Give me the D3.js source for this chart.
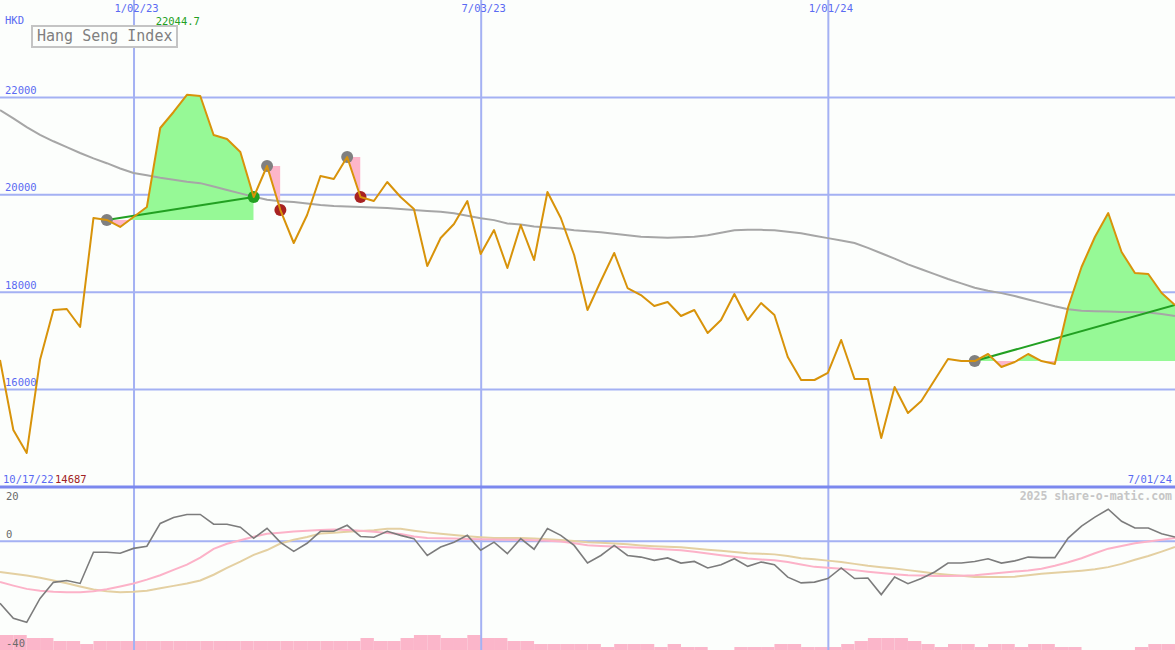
<!DOCTYPE html>
<html>
<head>
<meta charset="utf-8">
<script src="https://cdn.jsdelivr.net/npm/d3@7"></script>
<style>
body { margin: 0; background: #fff; }
svg { display: block; }
text { font-family: "DejaVu Sans Mono", monospace; }
</style>
</head>
<body>
<svg width="1175" height="650"></svg>
<script>
// weekly closes, Hang Seng Index
var closes = [16596,15158,14687,16600,17623,17644,17274,19514,19473,19329,
  19534,19740,21363,21692,22044.7,22020,21219,21137,20870,19945,
  20582,19678,19000,19575,20377,20315,20767,19945,19863,20253,
  19945,19699,18527,19103,19390,19863,18774,19267,18486,19370,
  18651,20048,19514,18753,17623,18219,18795,18075,17931,17705,
  17788,17500,17623,17151,17418,17952,17418,17767,17521,16658,
  16185,16185,16329,17007,16205,16205,14993,16041,15507,15753,
  16185,16616,16575,16575,16719,16452,16555,16719,16575,16514,
  17685,18507,19123,19616,18815,18384,18363,17973,17726];

// long moving average (grey)
var movingAvg = [21730,21560,21380,21220,21090,20970,20850,20740,20640,20530,
  20440,20390,20340,20300,20260,20230,20160,20090,20020,19950,
  19890,19860,19840,19810,19780,19760,19750,19740,19730,19720,
  19700,19680,19660,19640,19610,19560,19510,19470,19400,19380,
  19340,19320,19300,19260,19240,19220,19190,19160,19130,19120,
  19110,19120,19130,19160,19210,19260,19270,19270,19260,19230,
  19200,19150,19100,19050,19000,18900,18790,18680,18560,18460,
  18360,18260,18170,18080,18020,17970,17910,17840,17770,17700,
  17640,17610,17600,17590,17580,17580,17570,17540,17500];

// lower panel: momentum and its two averages
var momentum = [-22.8,-28.3,-29.8,-21,-15.1,-14.4,-15.5,-4.0,-4.0,-4.4,
  -2.6,-1.8,6.6,8.8,9.9,9.9,6.3,6.3,5.2,1.1,
  4.8,-0.4,-3.7,-0.7,3.7,3.7,5.9,1.8,1.5,3.7,
  2.2,1.0,-5.2,-2.1,-0.3,2.2,-3.3,-0.3,-4.5,1.0,
  -2.9,4.7,2.2,-1.5,-8.0,-5.2,-1.5,-5.2,-5.8,-7.0,
  -6.1,-8.0,-7.4,-9.8,-8.6,-6.4,-9.2,-7.6,-8.6,-13.2,
  -15.3,-15.0,-13.7,-9.8,-13.7,-13.5,-19.6,-13.1,-15.6,-13.7,
  -11.3,-8.0,-8.0,-7.4,-6.4,-8.0,-7.2,-5.8,-6.0,-6.0,
  1.2,5.6,8.9,11.8,7.4,4.9,4.9,2.8,1.6];

var fastAvg = [-15,-16.3,-17.5,-18.2,-18.6,-18.7,-18.7,-18.4,-17.6,-16.6,
  -15.5,-14.1,-12.5,-10.5,-8.6,-6,-2.8,-0.9,0.4,1.7,
  2.8,3.2,3.6,3.9,4.2,4.4,4.2,3.9,3.5,3.1,
  2.7,1.8,1.2,1.1,1.0,0.9,0.8,0.7,0.6,0.6,
  0.4,0.2,-0.1,-0.7,-1.4,-1.7,-1.9,-2.2,-2.4,-2.7,
  -3.0,-3.3,-3.8,-4.5,-5.1,-5.7,-6.3,-6.7,-7.0,-7.6,
  -8.5,-9.4,-9.7,-10.1,-10.6,-11.2,-11.7,-12.1,-12.5,-12.6,
  -12.8,-12.8,-12.7,-12.5,-12.0,-11.6,-11.1,-10.7,-10.1,-9.0,
  -7.7,-6.2,-4.4,-2.7,-1.7,-0.7,-0.1,0.6,1.2];

var slowAvg = [-11.3,-11.9,-12.6,-13.4,-14.4,-15.4,-16.6,-17.7,-18.4,-18.7,
  -18.6,-18.2,-17.3,-16.4,-15.5,-14.4,-12.3,-9.8,-7.5,-5.0,
  -3.2,-0.8,0.6,1.6,2.9,3.2,3.5,3.8,4.1,4.6,
  4.6,3.9,3.3,2.8,2.3,1.9,1.5,1.2,1.2,1.2,
  1.0,0.8,0.5,0.1,-0.3,-0.5,-0.8,-1.1,-1.5,-1.8,
  -2.0,-2.2,-2.6,-3.1,-3.5,-3.9,-4.4,-4.6,-4.8,-5.4,
  -6.2,-6.6,-7.1,-7.6,-8.3,-9.0,-9.5,-10.0,-10.6,-11.2,
  -11.8,-12.3,-12.7,-13.1,-13.1,-13.1,-13.0,-12.5,-11.9,-11.6,
  -11.2,-10.8,-10.3,-9.5,-8.3,-6.8,-5.4,-3.8,-2.1];

// volume level per week (step bars)
var volume = [5,5,4,4,3,3,2,3,3,3,
  3,3,3,3,3,3,3,3,3,3,
  3,3,3,3,3,3,3,4,3,3,
  4,5,5,4,4,5,4,4,3,3,
  2,2,2,2,2,1,2,2,2,1,
  2,1,1,0,0,1,1,1,2,2,
  1,1,1,2,3,4,4,4,3,2,
  1,2,2,1,2,2,1,2,2,1,
  1,0,0,0,0,1,2,2];

var priceTicks = [16000, 18000, 20000, 22000];
var oscTicks = [20, 0, -40];
var dateIdx = [10, 36, 62];
var dateLabels = ["1/02/23", "7/03/23", "1/01/24"];
var firstDate = "10/17/22", lastDate = "7/01/24";

// trade signals: start week, end week, outcome
var sigStart = [8, 20, 26, 73];
var sigEnd = [19, 21, 27, 88];
var sigResult = ["win", "loss", "loss", "open"];

var svg = d3.select("svg"),
    width = +svg.attr("width"),
    height = +svg.attr("height"),
    split = 487;

var x = d3.scaleLinear().domain([0, closes.length - 1]).range([0, width]);
var y = d3.scaleLinear().domain([16000, 22000]).range([389, 97]);
var y2 = d3.scaleLinear().domain([-40, 20]).range([height, split]);
var yv = d3.scaleLinear().domain([0, 5]).range([0, 15]);

var blue = "#a4b1f3";

svg.append("rect").attr("width", width).attr("height", height).attr("fill", "#fcfefc");

var defs = svg.append("defs");
defs.append("clipPath").attr("id", "main").append("rect")
    .attr("width", width).attr("height", split);

// volume bars
svg.append("g").attr("fill", "#fbb6ca")
  .selectAll("rect").data(volume).enter().append("rect")
    .attr("x", function(d, i) { return x(i); })
    .attr("width", function(d, i) { return x(i + 1) - x(i); })
    .attr("y", function(d) { return height - yv(d); })
    .attr("height", function(d) { return yv(d); });

// grid
svg.append("g")
    .attr("transform", "translate(0,0)")
    .call(d3.axisBottom(x).tickValues(dateIdx).tickSize(height).tickFormat(""))
    .call(function(g) { g.select(".domain").remove(); })
    .selectAll("line").attr("stroke", blue).attr("stroke-width", 2);

svg.append("g")
    .call(d3.axisRight(y).tickValues(priceTicks).tickSize(width).tickFormat(""))
    .call(function(g) { g.select(".domain").remove(); })
    .selectAll("line").attr("stroke", blue).attr("stroke-width", 2);

svg.append("line")
    .attr("x1", 0).attr("x2", width)
    .attr("y1", y2(0)).attr("y2", y2(0))
    .attr("stroke", blue).attr("stroke-width", 2);

svg.append("line")
    .attr("x1", 0).attr("x2", width)
    .attr("y1", split).attr("y2", split)
    .attr("stroke", "#7b88ee").attr("stroke-width", 3);

// signal fills
var main = svg.append("g").attr("clip-path", "url(#main)");

sigStart.forEach(function(s, k) {
  var e = sigEnd[k], base = y(closes[s]);
  var idx = d3.range(s, e + 1);
  var area = d3.area()
      .x(function(i) { return x(i); })
      .y0(base)
      .y1(function(i) { return y(closes[i]); });
  defs.append("clipPath").attr("id", "up" + k).append("rect")
      .attr("x", x(s)).attr("width", x(e) - x(s)).attr("y", 0).attr("height", base);
  defs.append("clipPath").attr("id", "dn" + k).append("rect")
      .attr("x", x(s)).attr("width", x(e) - x(s)).attr("y", base).attr("height", split - base);
  main.append("path").datum(idx).attr("d", area)
      .attr("fill", "#96f996").attr("clip-path", "url(#up" + k + ")");
  main.append("path").datum(idx).attr("d", area)
      .attr("fill", "#fdb6ca").attr("clip-path", "url(#dn" + k + ")");
});

// moving average
main.append("path").datum(movingAvg)
    .attr("fill", "none").attr("stroke", "#a6a6a6").attr("stroke-width", 2)
    .attr("d", d3.line().x(function(d, i) { return x(i); }).y(function(d) { return y(d); }));

// trend lines for winning / open trades
sigStart.forEach(function(s, k) {
  if (sigResult[k] == "loss") return;
  main.append("line")
      .attr("x1", x(s)).attr("y1", y(closes[s]))
      .attr("x2", x(sigEnd[k])).attr("y2", y(closes[sigEnd[k]]))
      .attr("stroke", "#22a022").attr("stroke-width", 2);
});

// markers
sigStart.forEach(function(s, k) {
  main.append("circle").attr("cx", x(s)).attr("cy", y(closes[s])).attr("r", 6)
      .attr("fill", "#808080");
  if (sigResult[k] == "open") return;
  main.append("circle").attr("cx", x(sigEnd[k])).attr("cy", y(closes[sigEnd[k]])).attr("r", 6)
      .attr("fill", sigResult[k] == "win" ? "#22a022" : "#a82222");
});

// price line
main.append("path").datum(closes)
    .attr("fill", "none").attr("stroke", "#d8930a").attr("stroke-width", 2)
    .attr("stroke-linejoin", "round")
    .attr("d", d3.line().x(function(d, i) { return x(i); }).y(function(d) { return y(d); }));

// lower panel lines
var oscLine = d3.line().x(function(d, i) { return x(i); }).y(function(d) { return y2(d); });
svg.append("path").datum(slowAvg)
    .attr("fill", "none").attr("stroke", "#e4d0a2").attr("stroke-width", 2).attr("d", oscLine);
svg.append("path").datum(fastAvg)
    .attr("fill", "none").attr("stroke", "#fcb2c8").attr("stroke-width", 2).attr("d", oscLine);
svg.append("path").datum(momentum)
    .attr("fill", "none").attr("stroke", "#7c7c7c").attr("stroke-width", 1.6).attr("d", oscLine);

// labels
var lab = svg.append("g").attr("font-size", 10.5);

lab.selectAll(".py").data(priceTicks).enter().append("text")
    .attr("x", 5).attr("y", function(d) { return y(d) - 3; })
    .attr("fill", "#5a6af2").text(function(d) { return d; });

lab.selectAll(".dt").data(dateIdx).enter().append("text")
    .attr("x", function(d) { return x(d) + 3; }).attr("y", 12)
    .attr("text-anchor", "middle").attr("fill", "#5a6af2")
    .text(function(d, i) { return dateLabels[i]; });

lab.append("text").attr("x", 5).attr("y", 24).attr("fill", "#5a6af2").text("HKD");

var maxI = d3.maxIndex(closes), minI = d3.minIndex(closes);
lab.append("text").attr("x", x(maxI) + 13).attr("y", 25).attr("text-anchor", "end")
    .attr("fill", "#22a022").text(d3.max(closes));

lab.append("text").attr("x", 3).attr("y", 483).attr("fill", "#5a6af2").text(firstDate);
lab.append("text").attr("x", 55).attr("y", 483).attr("fill", "#a02222").text(closes[minI]);
lab.append("text").attr("x", width - 3).attr("y", 483).attr("text-anchor", "end")
    .attr("fill", "#5a6af2").text(lastDate);

lab.selectAll(".oy").data(oscTicks).enter().append("text")
    .attr("x", 6)
    .attr("y", function(d) { return d == 20 ? y2(d) + 13 : y2(d) - 3; })
    .attr("fill", "#6a6a6a").text(function(d) { return d; });

svg.append("text").attr("x", width - 3).attr("y", 500).attr("text-anchor", "end")
    .attr("font-size", 11.5).attr("font-weight", "bold").attr("fill", "#c6c6c6")
    .text("2025 share-o-matic.com");

// title box
svg.append("rect").attr("x", 32).attr("y", 26).attr("width", 145).attr("height", 21)
    .attr("fill", "#fcfefc").attr("stroke", "#c4c4c4").attr("stroke-width", 2);
svg.append("text").attr("x", 37).attr("y", 41).attr("font-size", 15)
    .attr("fill", "#808080").text("Hang Seng Index");
</script>
</body>
</html>
